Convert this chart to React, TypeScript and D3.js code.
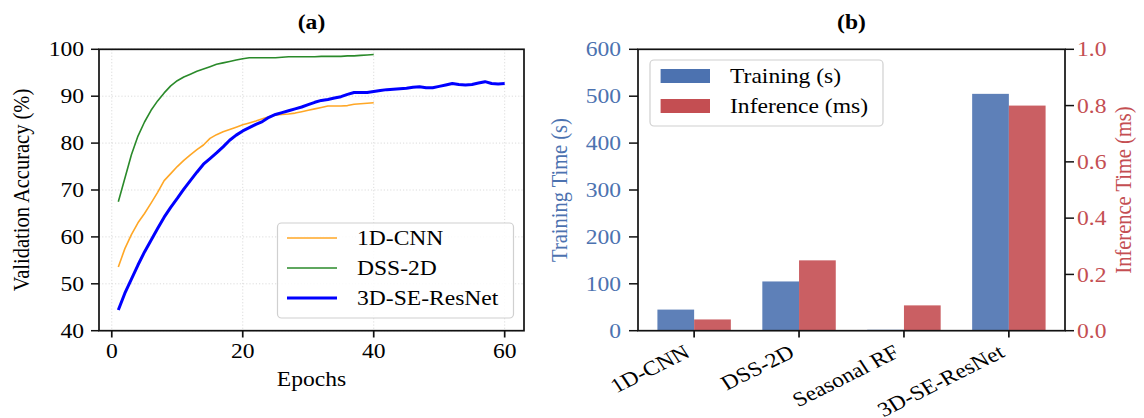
import { useEffect, useRef } from "react";
import * as d3 from "d3";

// (a) validation accuracy per epoch
const cnn1d = [
  53.6, 57.5, 60.5, 63.0, 65.0, 67.2, 69.5, 72.0, 73.5, 75.0,
  76.3, 77.5, 78.6, 79.6, 81.0, 81.8, 82.4, 82.9, 83.4, 83.9,
  84.3, 84.7, 85.2, 85.6, 86.0, 86.1, 86.2, 86.4, 86.7, 87.0,
  87.3, 87.6, 87.9, 87.9, 87.9, 88.0, 88.3, 88.4, 88.5, 88.6,
];
const dss2d = [
  67.5, 72.5, 77.5, 81.5, 84.5, 87.0, 89.0, 90.7, 92.2, 93.3,
  94.1, 94.7, 95.3, 95.8, 96.3, 96.8, 97.1, 97.4, 97.7, 98.0,
  98.2, 98.2, 98.2, 98.2, 98.2, 98.3, 98.4, 98.4, 98.4, 98.4,
  98.4, 98.5, 98.5, 98.5, 98.5, 98.6, 98.6, 98.7, 98.8, 98.9,
];
const seResNet = [
  44.4, 48.0, 51.0, 54.0, 56.8, 59.3, 61.8, 64.2, 66.3, 68.2,
  70.2, 72.0, 73.8, 75.5, 76.7, 77.9, 79.2, 80.6, 81.7, 82.6,
  83.3, 84.0, 84.6, 85.5, 86.1, 86.5, 86.9, 87.3, 87.7, 88.2,
  88.7, 89.1, 89.3, 89.6, 89.9, 90.4, 90.8, 90.8, 90.8, 91.0,
  91.2, 91.4, 91.5, 91.6, 91.7, 91.9, 92.0, 91.8, 91.8, 92.1,
  92.4, 92.7, 92.5, 92.4, 92.5, 92.8, 93.1, 92.7, 92.6, 92.7,
];
const accTicks = [40, 50, 60, 70, 80, 90, 100];
const epochTicks = [0, 20, 40, 60];

// (b) cost
const models = ["1D-CNN", "DSS-2D", "Seasonal RF", "3D-SE-ResNet"];
const trainingSec = [45, 105, 2, 505];
const inferenceMs = [0.04, 0.25, 0.09, 0.8];
const trainTicks = [0, 100, 200, 300, 400, 500, 600];
const inferTicks = [0, 0.2, 0.4, 0.6, 0.8, 1.0];

const series = [
  { name: "1D-CNN", values: cnn1d, color: "#ffa726", width: 1.6 },
  { name: "DSS-2D", values: dss2d, color: "#2a8a2a", width: 1.6 },
  { name: "3D-SE-ResNet", values: seResNet, color: "#0000ff", width: 3 },
];

const W = 1144;
const H = 418;
const FONT = "Liberation Serif, Times New Roman, serif";
const FS = 20.5;
const SX = 1.15; // the figure is stretched horizontally
const BLUE = "#4c72b0";
const RED = "#c44e52";

const App = () => {
  const svgRef = useRef(null);

  useEffect(() => {
    const svg = d3.select(svgRef.current);
    svg.selectAll("*").remove();

    const text = (g, x, y, s, opts: any = {}) => {
      const t = g.append("text")
        .attr("transform", `translate(${x},${y}) scale(${SX},1)` + (opts.rotate ? ` rotate(${opts.rotate})` : ""))
        .attr("text-anchor", opts.anchor || "middle")
        .style("font-family", FONT)
        .style("font-size", `${FS}px`)
        .style("font-weight", opts.weight || "normal")
        .attr("fill", opts.color || "#000")
        .text(s);
      if (opts.dy) t.attr("dy", opts.dy);
      return t;
    };

    // ---------- (a) ----------
    const a = svg.append("g");
    const xA = d3.scaleLinear().domain([-1.95, 62.95]).range([99, 524]);
    const yA = d3.scaleLinear().domain([40, 100]).range([330.7, 49.3]);

    epochTicks.forEach((t) => {
      a.append("line")
        .attr("x1", xA(t)).attr("x2", xA(t))
        .attr("y1", yA(100)).attr("y2", yA(40))
        .attr("stroke", "#d8d8d8").attr("stroke-width", 0.9).attr("stroke-dasharray", "1.2,2");
    });
    accTicks.forEach((t) => {
      a.append("line")
        .attr("x1", xA.range()[0]).attr("x2", xA.range()[1])
        .attr("y1", yA(t)).attr("y2", yA(t))
        .attr("stroke", "#d8d8d8").attr("stroke-width", 0.9).attr("stroke-dasharray", "1.2,2");
    });

    series.forEach((s) => {
      const line = d3.line<number>()
        .x((d, i) => xA(i + 1))
        .y((d) => yA(d));
      a.append("path")
        .attr("d", line(s.values))
        .attr("fill", "none")
        .attr("stroke", s.color)
        .attr("stroke-width", s.width)
        .attr("stroke-linejoin", "round");
    });

    a.append("rect")
      .attr("x", 99).attr("y", 49.3).attr("width", 425).attr("height", 281.4)
      .attr("fill", "none").attr("stroke", "#111").attr("stroke-width", 1.7);

    accTicks.forEach((t) => {
      a.append("line").attr("x1", 91).attr("x2", 99).attr("y1", yA(t)).attr("y2", yA(t))
        .attr("stroke", "#111").attr("stroke-width", 1.5);
      text(a, 84, yA(t), String(t), { anchor: "end", dy: "0.35em" });
    });
    epochTicks.forEach((t) => {
      a.append("line").attr("x1", xA(t)).attr("x2", xA(t)).attr("y1", 330.7).attr("y2", 337.5)
        .attr("stroke", "#111").attr("stroke-width", 1.7);
      text(a, xA(t), 358, String(t));
    });
    text(a, 311.5, 386, "Epochs");
    text(a, 29, 190, "Validation Accuracy (%)", { rotate: -90 });
    text(a, 311.5, 29, "(a)", { weight: "bold" });

    // legend (a)
    a.append("rect")
      .attr("x", 277.5).attr("y", 223).attr("width", 236).attr("height", 95).attr("rx", 4)
      .attr("fill", "#fff").attr("fill-opacity", 0.85).attr("stroke", "#d0d0d0").attr("stroke-width", 1.2);
    series.forEach((s, i) => {
      const ry = 238 + i * 30;
      a.append("line").attr("x1", 287).attr("x2", 337).attr("y1", ry).attr("y2", ry)
        .attr("stroke", s.color).attr("stroke-width", s.width);
      text(a, 357, ry, s.name, { anchor: "start", dy: "0.35em" });
    });

    // ---------- (b) ----------
    const b = svg.append("g");
    const xB = d3.scaleLinear().domain([-0.535, 3.535]).range([638, 1065]);
    const yL = d3.scaleLinear().domain([0, 600]).range([330.7, 49.3]);
    const yR = d3.scaleLinear().domain([0, 1]).range([330.7, 49.3]);
    const bw = 0.35;

    models.forEach((m, i) => {
      b.append("rect")
        .attr("x", xB(i - bw)).attr("width", xB(bw) - xB(0))
        .attr("y", yL(trainingSec[i])).attr("height", yL(0) - yL(trainingSec[i]))
        .attr("fill", BLUE).attr("fill-opacity", 0.9);
      b.append("rect")
        .attr("x", xB(i)).attr("width", xB(bw) - xB(0))
        .attr("y", yR(inferenceMs[i])).attr("height", yR(0) - yR(inferenceMs[i]))
        .attr("fill", RED).attr("fill-opacity", 0.9);
    });

    b.append("rect")
      .attr("x", 638).attr("y", 49.3).attr("width", 427).attr("height", 281.4)
      .attr("fill", "none").attr("stroke", "#111").attr("stroke-width", 1.7);

    trainTicks.forEach((t) => {
      b.append("line").attr("x1", 629).attr("x2", 638).attr("y1", yL(t)).attr("y2", yL(t))
        .attr("stroke", "#111").attr("stroke-width", 1.5);
      text(b, 621, yL(t), String(t), { anchor: "end", dy: "0.35em", color: BLUE });
    });
    inferTicks.forEach((t) => {
      b.append("line").attr("x1", 1065).attr("x2", 1074).attr("y1", yR(t)).attr("y2", yR(t))
        .attr("stroke", "#111").attr("stroke-width", 1.5);
      text(b, 1077, yR(t), t.toFixed(1), { anchor: "start", dy: "0.35em", color: RED });
    });
    models.forEach((m, i) => {
      b.append("line").attr("x1", xB(i)).attr("x2", xB(i)).attr("y1", 330.7).attr("y2", 337.5)
        .attr("stroke", "#111").attr("stroke-width", 1.7);
      text(b, xB(i) - 3, 356, m, { anchor: "end", rotate: -30 });
    });
    text(b, 567, 190, "Training Time (s)", { rotate: -90, color: BLUE });
    text(b, 1131, 190, "Inference Time (ms)", { rotate: -90, color: RED });
    text(b, 851.5, 29, "(b)", { weight: "bold" });

    // legend (b)
    b.append("rect")
      .attr("x", 650).attr("y", 60).attr("width", 233).attr("height", 66).attr("rx", 4)
      .attr("fill", "#fff").attr("fill-opacity", 0.85).attr("stroke", "#d0d0d0").attr("stroke-width", 1.2);
    [
      { name: "Training (s)", color: BLUE },
      { name: "Inference (ms)", color: RED },
    ].forEach((d, i) => {
      const ry = 76 + i * 30;
      b.append("rect").attr("x", 660.6).attr("y", ry - 7).attr("width", 49.4).attr("height", 14)
        .attr("fill", d.color);
      text(b, 730, ry, d.name, { anchor: "start", dy: "0.35em" });
    });
  }, []);

  return (
    <svg
      ref={svgRef}
      width={W}
      height={H}
      style={{ position: "absolute", left: 0, top: 0, background: "#fff" }}
    />
  );
};

export default App;
